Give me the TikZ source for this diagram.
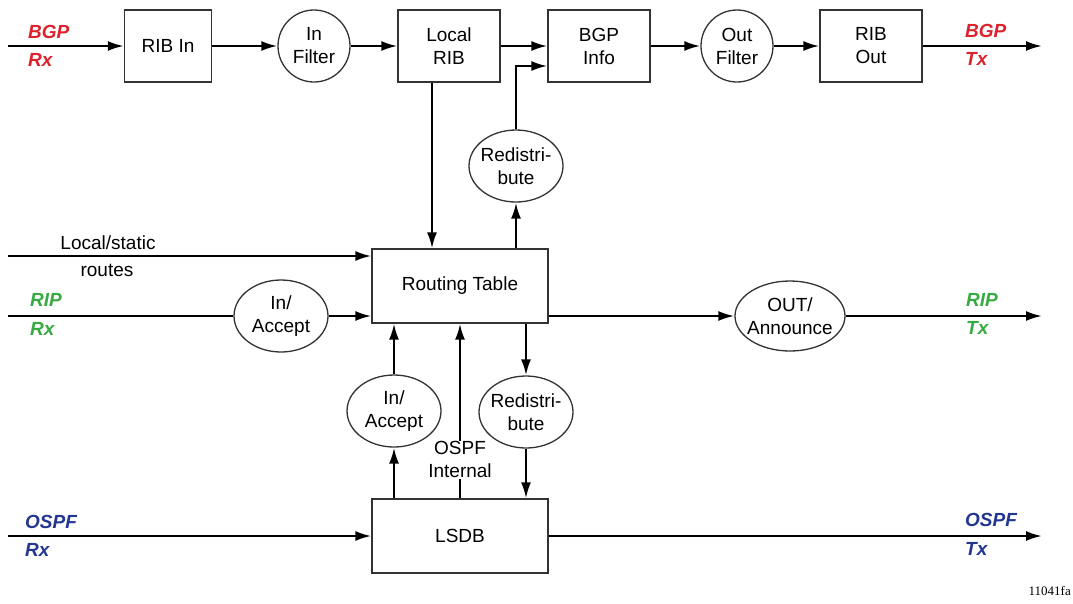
\documentclass[tikz,border=0pt]{standalone}
\usepackage{fontspec}
\setmainfont{Liberation Sans}
\newfontfamily\figfont{Liberation Serif}
\usepackage{xcolor}
\usetikzlibrary{arrows.meta,shapes.geometric}
\definecolor{bgpred}{RGB}{220,35,45}
\definecolor{ripgreen}{RGB}{55,170,65}
\definecolor{ospfblue}{RGB}{35,55,145}

\begin{document}
\begin{tikzpicture}[x=1pt,y=-1pt,
  font=\fontsize{19}{23}\selectfont,
  box/.style={draw=black!80,line width=1.3pt,minimum width=102pt,minimum height=72pt,align=center,inner sep=0pt},
  filt/.style={draw=black!80,line width=1.3pt,circle,minimum size=72pt,inner sep=0pt},
  oval/.style={draw=black!80,line width=1.3pt,ellipse,minimum width=94pt,minimum height=72pt,inner sep=0pt},
  txt/.style={align=center,inner sep=0pt},
  proto/.style={font=\fontsize{19}{23}\selectfont\bfseries\itshape,anchor=west,inner sep=0pt},
  arr/.style={line width=2.3pt,-{Latex[length=16pt,width=10pt]}},
  ln/.style={line width=2.3pt}]

  \useasboundingbox (0,0) rectangle (1073,603);

  % BGP row
  \node[box,minimum width=87pt] (ribin) at (168,46) {RIB In};
  \node[filt] (infilt) at (314,46) {};
  \node[txt] (infilt-t) at (infilt) {In\\Filter};
  \node[box] (locrib) at (449,46) {Local\\RIB};
  \node[box] (bgpinfo) at (599,46) {BGP\\Info};
  \node[filt] (outfilt) at (737,46) {};
  \node[txt] (outfilt-t) at (outfilt) {Out\\Filter};
  \node[box] (ribout) at (871,46) {RIB\\Out};

  % tables
  \node[box,minimum width=176pt,minimum height=74pt] (rt) at (460,286) {Routing Table};
  \node[box,minimum width=176pt,minimum height=74pt] (lsdb) at (460,536) {LSDB};

  % policies
  \node[oval] (redisup) at (516,166) {};
  \node[txt] (redisup-t) at (redisup) {Redistri-\\bute};
  \node[oval] (redisdn) at (526,412) {};
  \node[txt] (redisdn-t) at (redisdn) {Redistri-\\bute};
  \node[oval] (ospfacc) at (394,411) {};
  \node[txt] (ospfacc-t) at (ospfacc) {In/\\Accept};
  \node[oval] (ripacc) at (281,316) {};
  \node[txt] (ripacc-t) at (ripacc) {In/\\Accept};
  \node[oval,minimum width=110pt,minimum height=70pt] (announce) at (790,316) {};
  \node[txt] (announce-t) at (announce) {OUT/\\Announce};

  % free ends
  \coordinate (bgprx) at (8,46);
  \coordinate (bgptx) at (1042,46);
  \coordinate (lsin) at (8,256);
  \coordinate (riprx) at (8,316);
  \coordinate (riptx) at (1042,316);
  \coordinate (ospfrx) at (8,536);
  \coordinate (ospftx) at (1042,536);

  \draw[arr] (bgprx) -- (ribin);
  \draw[arr] (ribin) -- (infilt);
  \draw[arr] (infilt) -- (locrib);
  \draw[arr] (locrib) -- (bgpinfo);
  \draw[arr] (bgpinfo) -- (outfilt);
  \draw[arr] (outfilt) -- (ribout);
  \draw[arr] (ribout) -- (bgptx);

  \draw[arr] ([xshift=-17pt]locrib.south) -- ([xshift=-17pt]locrib.south |- rt.north);
  \draw[arr] (redisup |- rt.north) -- (redisup);
  \draw[arr] (redisup) |- ([yshift=-20pt]bgpinfo.west);

  \draw[arr] (lsin) -- (lsin -| rt.west);
  \draw[ln] (riprx) -- (ripacc);
  \draw[arr] (ripacc) -- (ripacc -| rt.west);
  \draw[arr] (rt.east |- riprx) -- (announce);
  \draw[arr] (announce) -- (riptx);

  \draw[arr] (lsdb.north -| ospfacc) -- (ospfacc);
  \draw[arr] (ospfacc) -- (ospfacc |- rt.south);
  \draw[arr] (lsdb.north) -- (rt.south)
    node[pos=0.22,fill=white,align=center,inner sep=1pt] (ospfint) {OSPF\\Internal};
  \draw[arr] (redisdn |- rt.south) -- (redisdn);
  \draw[arr] (redisdn) -- (redisdn |- lsdb.north);

  \draw[arr] (ospfrx) -- (lsdb);
  \draw[arr] (lsdb) -- (ospftx);

  % protocol labels
  \foreach \n/\x/\y/\c/\t in {bgpa/28/32/bgpred/BGP, bgpb/28/60/bgpred/Rx,
      bgpc/965/31/bgpred/BGP, bgpd/965/59/bgpred/Tx,
      ripa/30/300/ripgreen/RIP, ripb/30/329/ripgreen/Rx,
      ripc/966/300/ripgreen/RIP, ripd/966/328/ripgreen/Tx,
      ospfa/25/522/ospfblue/OSPF, ospfb/25/550/ospfblue/Rx,
      ospfc/965/520/ospfblue/OSPF, ospfd/965/549/ospfblue/Tx}
    \node[proto,text=\c] (\n) at (\x,\y) {\t};

  \node[txt] (lsa) at (108,243) {Local/static};
  \node[txt] (lsb) at (107,270) {routes};

  \node[font=\figfont\fontsize{13}{15}\selectfont,anchor=east,inner sep=0pt] (figid) at (1071,591) {11041fa};
\end{tikzpicture}
\end{document}
